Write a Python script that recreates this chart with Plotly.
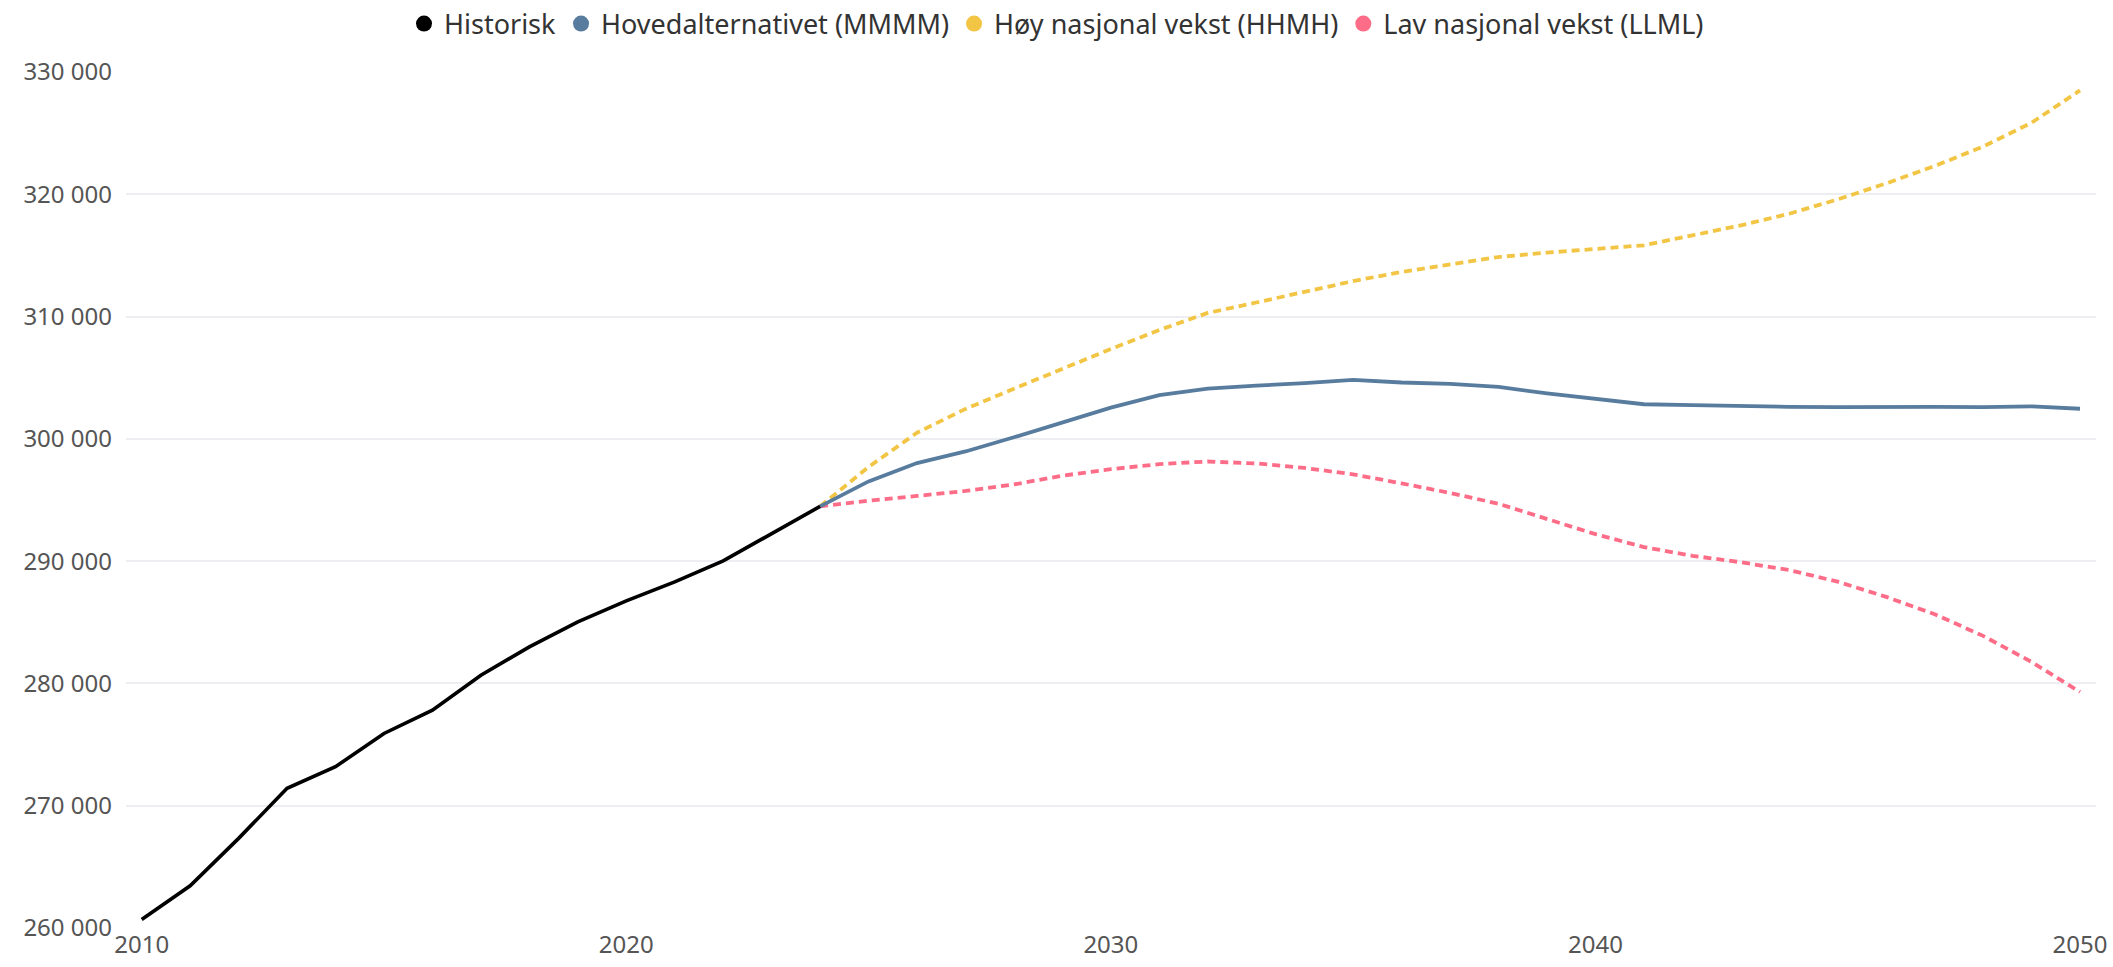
import plotly.graph_objects as go

# Historisk befolkning
hist_years = list(range(2010, 2025))
hist_values = [260700, 263450, 267330, 271420, 273190, 275910, 277810, 280670,
               282990, 285030, 286750, 288300, 290020, 292250, 294480]

# Framskrivinger 2024-2050
proj_years = list(range(2024, 2051))
mmmm = [294480, 296520, 298020, 298970, 300130, 301380, 302550, 303570, 304110,
        304360, 304550, 304820, 304610, 304490, 304250, 303720, 303290, 302830,
        302760, 302660, 302620, 302590, 302620, 302620, 302590, 302660, 302460]
hhmh = [294480, 297700, 300500, 302450, 304100, 305750, 307350, 308900, 310300,
        311150, 312050, 312900, 313650, 314250, 314870, 315230, 315510, 315830,
        316640, 317460, 318410, 319580, 320890, 322310, 323900, 325850, 328500]
llml = [294480, 294950, 295330, 295740, 296270, 296990, 297520, 297930, 298150,
        297990, 297620, 297100, 296360, 295580, 294690, 293450, 292210, 291150,
        290440, 289910, 289270, 288320, 287075, 285660, 283890, 281760, 279300]

names = ["Historisk", "Hovedalternativet (MMMM)", "Høy nasjonal vekst (HHMH)", "Lav nasjonal vekst (LLML)"]
colors = ["#000000", "#587c9e", "#f2c544", "#fe6d88"]

y_ticks = [260000, 270000, 280000, 290000, 300000, 310000, 320000, 330000]
x_ticks = [2010, 2020, 2030, 2040, 2050]

fig = go.Figure()

# Dotted scenario lines
fig.add_trace(go.Scatter(x=proj_years, y=hhmh, mode="lines", showlegend=False,
                         line=dict(color=colors[2], width=3.8, dash="8px,5px")))
fig.add_trace(go.Scatter(x=proj_years, y=llml, mode="lines", showlegend=False,
                         line=dict(color=colors[3], width=3.8, dash="8px,5px")))
# Main alternative
fig.add_trace(go.Scatter(x=proj_years, y=mmmm, mode="lines", showlegend=False,
                         line=dict(color=colors[1], width=3.8)))
# Historical
fig.add_trace(go.Scatter(x=hist_years, y=hist_values, mode="lines", showlegend=False,
                         line=dict(color=colors[0], width=3.6)))

# Legend entries shown as dots
for name, col in zip(names, colors):
    fig.add_trace(go.Scatter(x=[None], y=[None], mode="markers", name=name,
                             marker=dict(color=col, size=17)))

fig.update_layout(
    width=2113, height=967,
    paper_bgcolor="white", plot_bgcolor="white",
    margin=dict(l=126, r=17, t=72, b=39, autoexpand=False),
    separators=", ",
    font=dict(family="Noto Sans, Open Sans, sans-serif", size=24, color="#555555"),
    showlegend=True,
    legend=dict(orientation="h", x=0.5, xanchor="center", xref="container",
                y=1 - 24 / 967, yanchor="middle", yref="container",
                font=dict(size=27, color="#333333"),
                itemwidth=30, tracegroupgap=0, traceorder="normal"),
    hovermode=False,
)

fig.update_xaxes(range=[2009.676, 2050.33], tickvals=x_ticks, showgrid=False,
                 zeroline=False, showline=False, ticks="", ticklabelstandoff=0,
                 ticklabeloverflow="allow")
fig.update_yaxes(range=[260000, 330000], tickvals=y_ticks, tickformat=",d",
                 showgrid=True, gridcolor="#eceef2", gridwidth=1.5,
                 zeroline=False, showline=False, ticks="", ticklabelstandoff=13)

# page without body margin so the figure fills the window exactly
fig.write_html("out.html", config={"displayModeBar": False},
               post_script="document.body.style.margin='0';")
